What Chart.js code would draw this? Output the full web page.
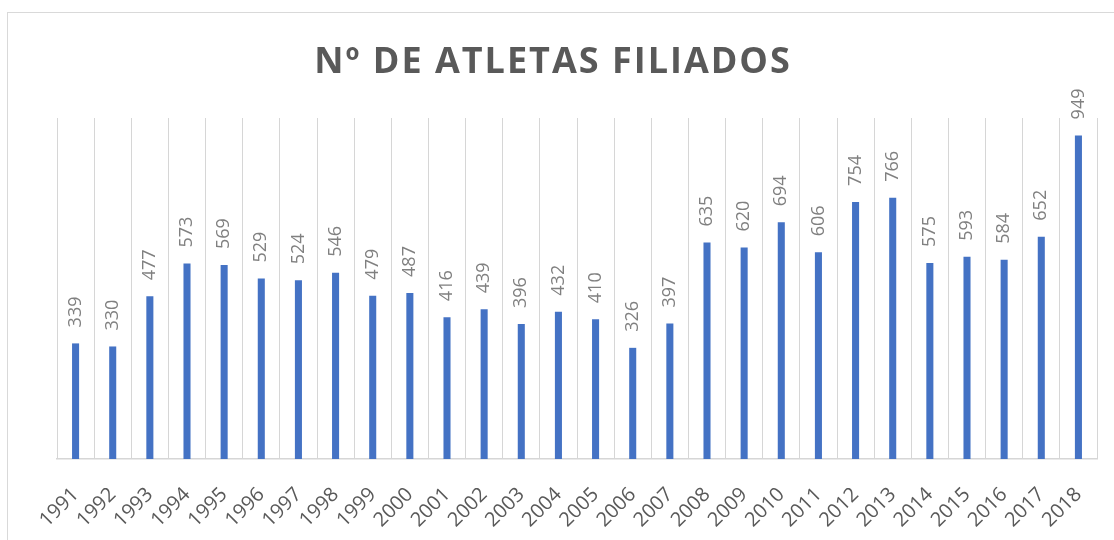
<!DOCTYPE html>
<html>
<head>
<meta charset="utf-8">
<script src="https://cdn.jsdelivr.net/npm/chart.js@4.4.1/dist/chart.umd.min.js"></script>
<style>
  html, body { margin: 0; padding: 0; background: #fff; }
  #wrap { width: 1114px; height: 540px; }
</style>
</head>
<body>
<div id="wrap"><canvas id="chart" width="1114" height="540"></canvas></div>
<script>
// dados do gráfico
const chartTitle = 'Nº DE ATLETAS FILIADOS';
const years = ['1991', '1992', '1993', '1994', '1995', '1996', '1997', '1998', '1999', '2000',
    '2001', '2002', '2003', '2004', '2005', '2006', '2007', '2008', '2009', '2010',
    '2011', '2012', '2013', '2014', '2015', '2016', '2017', '2018'];
const athletes = [339, 330, 477, 573, 569, 529, 524, 546, 479, 487,
    416, 439, 396, 432, 410, 326, 397, 635, 620, 694,
    606, 754, 766, 575, 593, 584, 652, 949];

// moldura + título (com espaçamento entre letras)
const framePlugin = {
    id: 'frame',
    beforeDraw(chart) {
        const ctx = chart.ctx;
        ctx.save();
        ctx.strokeStyle = '#d9d9d9';
        ctx.lineWidth = 1;
        ctx.strokeRect(7.5, 12.5, 1200, 700);
        ctx.fillStyle = '#595959';
        ctx.font = 'bold 36px "Open Sans"';
        ctx.letterSpacing = '2px';
        ctx.textAlign = 'center';
        ctx.textBaseline = 'alphabetic';
        ctx.fillText(chartTitle, 553, 73);
        ctx.restore();
    }
};

// rótulos de valor verticais acima das barras
const valueLabels = {
    id: 'valueLabels',
    afterDatasetsDraw(chart) {
        const ctx = chart.ctx;
        const meta = chart.getDatasetMeta(0);
        ctx.save();
        ctx.fillStyle = '#808080';
        ctx.font = '18px "Open Sans"';
        ctx.textAlign = 'left';
        ctx.textBaseline = 'middle';
        meta.data.forEach((bar, i) => {
            ctx.save();
            ctx.translate(bar.x, bar.y - 16);
            ctx.rotate(-Math.PI / 2);
            ctx.fillText(String(athletes[i]), 0, 0);
            ctx.restore();
        });
        ctx.restore();
    }
};

new Chart(document.getElementById('chart'), {
    type: 'bar',
    data: {
        labels: years,
        datasets: [{
            data: athletes,
            backgroundColor: '#4472c4',
            barPercentage: 0.19,
            categoryPercentage: 1
        }]
    },
    options: {
        responsive: false,
        animation: false,
        layout: { padding: { top: 118, left: 57, right: 17, bottom: 0 } },
        plugins: {
            legend: { display: false },
            tooltip: { enabled: false }
        },
        scales: {
            x: {
                grid: { color: '#d6d6d6', drawTicks: false, offset: true },
                border: { color: '#d6d6d6', width: 1.5 },
                ticks: {
                    color: '#595959',
                    font: { family: 'Open Sans', size: 20 },
                    autoSkip: false,
                    minRotation: 45,
                    maxRotation: 45,
                    padding: 24
                },
                afterFit(scale) {
                    scale.height = 81;
                    scale.paddingLeft = 0;
                    scale.paddingRight = 0;
                }
            },
            y: {
                display: false,
                min: 0,
                max: 1000
            }
        }
    },
    plugins: [framePlugin, valueLabels]
});
</script>
</body>
</html>
